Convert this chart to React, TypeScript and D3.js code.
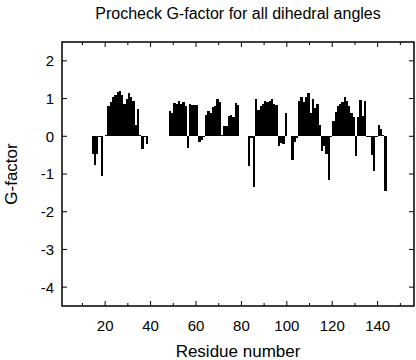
import React, { useRef, useEffect } from 'react';
import * as d3 from 'd3';

const firstResidue = 14;
// G-factor per residue, 14..143; null = nothing plotted
const gFactor: (number | null)[] = [
  -0.47, -0.75, -0.47, 0, -1.05, null, 0.04, // 14-20
  0.8, 0.92, 1.03, 1.1, 1.18, 1.2, 1.09, 0.85, 1.0, 1.14, // 21-30
  1.03, 0.94, 0.3, 0.72, 0.04, -0.35, 0.02, -0.2, null, null, // 31-40
  null, null, null, null, null, null, null, 0.68, 0.62, 0.87, // 41-50
  0.86, 0.94, 0.86, 0.9, 0.8, -0.32, 0.86, 0.82, 0.83, 0.83, // 51-60
  -0.16, -0.09, 0.02, 0.56, 0.68, 0.62, 0.77, 0.81, 0.99, 0.9, // 61-70
  0.04, 0.26, 0.28, 0.55, 0.57, 0.5, 0.88, 0.83, null, null, // 71-80
  null, null, -0.8, -0.05, -1.35, 1.0, 0.7, 0.8, 0.85, 0.94, // 81-90
  0.9, 0.94, 0.99, 0.86, 0.83, -0.27, -0.18, -0.2, 0.63, null, // 91-100
  null, -0.64, -0.16, -0.05, 0.94, 1.03, 0.9, 1.05, 1.15, 0.63, // 101-110
  1.0, 0.74, 0.86, 0.3, -0.38, -0.25, -0.47, -1.17, 0, 0.41, // 111-120
  0.65, 0.81, 0.86, 0.92, 1.03, 0.94, 0.81, 0.63, 0.5, -0.53, // 121-130
  0.5, 0.96, 0.55, 0.94, 0.0, 0.02, -0.5, -0.93, 0.02, 0.3, // 131-140
  0.19, 0.03, -1.44, // 141-143
];

const xTicks = [20, 40, 60, 80, 100, 120, 140];
const xMinorTicks = [10, 30, 50, 70, 90, 110, 130, 150];
const yTicks = [2, 1, 0, -1, -2, -3, -4];

const font = 'Liberation Sans, Arial, Helvetica, sans-serif';

const App = () => {
  const chartRef = useRef<HTMLDivElement>(null);

  useEffect(() => {
    const width = 416;
    const height = 360;
    const left = 62, right = 414, top = 42, bottom = 306;

    const x = d3.scaleLinear().domain([1, 156]).range([left, right]);
    const y = d3.scaleLinear().domain([-4.5, 2.5]).range([bottom, top]);

    const data = gFactor
      .map((v, i) => ({ residue: firstResidue + i, value: v }))
      .filter(d => d.value !== null) as { residue: number; value: number }[];

    const svg = d3.create('svg')
      .attr('width', width)
      .attr('height', height)
      .style('position', 'absolute')
      .style('left', 0)
      .style('top', 0)
      .style('background', '#fff')
      .style('font-family', font);

    // bars, crisp so neighbours join into solid blocks
    svg.append('g')
      .attr('shape-rendering', 'crispEdges')
      .selectAll('rect')
      .data(data)
      .join('rect')
      .attr('x', d => x(d.residue))
      .attr('width', d => x(d.residue + 1) - x(d.residue))
      .attr('y', d => Math.min(y(d.value), y(0)))
      .attr('height', d => Math.max(1, Math.abs(y(d.value) - y(0))))
      .attr('fill', '#000');

    // ticks, all pointing into the frame
    const ticks = svg.append('g').attr('stroke', '#000').attr('stroke-width', 1);
    xTicks.forEach(t => {
      ticks.append('line').attr('x1', x(t)).attr('x2', x(t)).attr('y1', bottom).attr('y2', bottom - 5);
      ticks.append('line').attr('x1', x(t)).attr('x2', x(t)).attr('y1', top).attr('y2', top + 5);
    });
    xMinorTicks.forEach(t => {
      ticks.append('line').attr('x1', x(t)).attr('x2', x(t)).attr('y1', bottom).attr('y2', bottom - 3);
      ticks.append('line').attr('x1', x(t)).attr('x2', x(t)).attr('y1', top).attr('y2', top + 3);
    });
    yTicks.forEach(t => {
      ticks.append('line').attr('x1', left).attr('x2', left + 5).attr('y1', y(t)).attr('y2', y(t));
      ticks.append('line').attr('x1', right).attr('x2', right - 5).attr('y1', y(t)).attr('y2', y(t));
    });

    // frame
    svg.append('rect')
      .attr('x', left)
      .attr('y', top)
      .attr('width', right - left)
      .attr('height', bottom - top)
      .attr('fill', 'none')
      .attr('stroke', '#000')
      .attr('stroke-width', 1.5);

    svg.append('g')
      .selectAll('text')
      .data(xTicks)
      .join('text')
      .attr('x', d => x(d))
      .attr('y', 331)
      .attr('text-anchor', 'middle')
      .attr('font-size', 15)
      .text(d => d);

    svg.append('g')
      .selectAll('text')
      .data(yTicks)
      .join('text')
      .attr('x', 54)
      .attr('y', d => y(d))
      .attr('dy', '0.36em')
      .attr('text-anchor', 'end')
      .attr('font-size', 15)
      .text(d => d);

    svg.append('text')
      .attr('x', (left + right) / 2)
      .attr('y', 19)
      .attr('text-anchor', 'middle')
      .attr('font-size', 16)
      .text('Procheck G-factor for all dihedral angles');

    svg.append('text')
      .attr('x', (left + right) / 2)
      .attr('y', 357)
      .attr('text-anchor', 'middle')
      .attr('font-size', 17)
      .text('Residue number');

    svg.append('text')
      .attr('transform', `translate(17,${(top + bottom) / 2}) rotate(-90)`)
      .attr('text-anchor', 'middle')
      .attr('font-size', 17)
      .text('G-factor');

    chartRef.current!.innerHTML = '';
    chartRef.current!.appendChild(svg.node()!);
  }, []);

  return <div ref={chartRef} />;
};

export default App;
